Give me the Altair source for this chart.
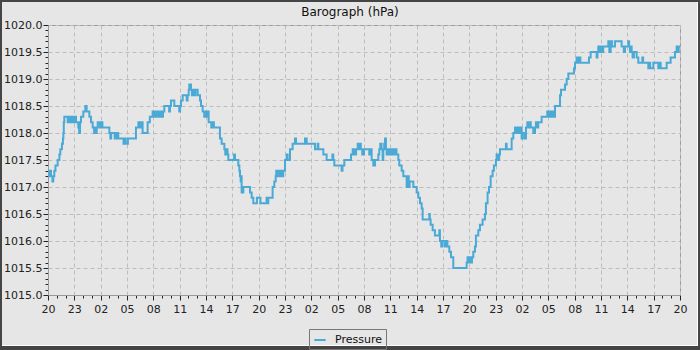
import altair as alt
import pandas as pd

# hours since 20:00 on day 1, pressure readings (hPa), step-wise
hours = [
    0.0, 0.15, 0.34, 0.5, 0.6, 0.72, 0.85, 1.1, 1.3, 1.4, 1.59, 1.7, 1.75, 1.8, 1.86,
    2.24, 2.35, 2.5, 2.6, 2.75, 2.85, 3.0, 3.1, 3.19, 3.45, 3.55, 3.65, 3.76, 4.02, 4.25,
    4.4, 4.71, 4.9, 5.09, 5.25, 5.35, 5.45, 5.55, 5.66, 5.9, 6.0, 6.2, 6.42, 6.99, 7.1,
    7.2, 7.6, 7.8, 8.0, 8.6, 8.75, 8.85, 9.1, 10.02, 10.3, 10.52, 10.6, 10.78, 11.35,
    11.6, 11.92, 12.1, 12.3, 12.5, 12.7, 12.9, 13.1, 13.25, 13.8, 13.9, 14.01, 14.39,
    14.95, 15.05, 15.15, 15.34, 15.8, 15.9, 16.03, 16.1, 16.29, 16.4, 16.5, 16.7, 16.8,
    17.05, 17.32, 17.43, 17.62, 17.8, 17.92, 18.05, 18.2, 18.3, 18.6, 18.8, 18.9, 19.59,
    19.78, 20.09, 20.2, 20.35, 20.45, 20.54, 21.2, 21.3, 21.68, 21.8, 21.87, 21.95, 22.0,
    22.06, 22.25, 23.01, 23.2, 23.39, 23.8, 24.2, 24.9, 25.0, 25.1, 25.59, 25.78, 25.94,
    26.0, 26.2, 26.4, 26.6, 26.8, 27.0, 27.19, 27.3, 27.57, 27.87, 28.14, 28.25, 29.28,
    29.47, 30.42, 30.72, 30.8, 31.37, 31.74, 32.4, 32.5, 32.62, 33.45, 33.55, 33.76,
    34.52, 34.71, 34.9, 35.1, 35.28, 35.38, 35.54, 35.64, 35.8, 36.0, 36.6, 36.75, 36.87,
    37.06, 37.25, 37.63, 37.74, 37.85, 38.0, 38.12, 38.2, 38.3, 38.39, 38.5, 38.58, 38.8,
    39.0, 39.1, 39.3, 39.5, 39.7, 39.91, 40.02, 40.29, 40.48, 40.86, 40.95, 41.1, 41.2,
    41.62, 42.0, 42.19, 42.38, 42.57, 42.68, 43.44, 43.5, 43.59, 43.82, 44.08, 44.58,
    44.65, 44.8, 44.9, 45.2, 45.3, 45.5, 45.72, 45.91, 46.17, 47.69, 47.8, 47.9, 48.07,
    48.2, 48.3, 48.45, 48.64, 48.75, 49.02, 49.21, 49.51, 49.78, 49.89, 50.08, 50.24,
    50.43, 50.65, 50.8, 51.03, 51.11, 51.3, 51.4, 51.49, 52.17, 52.25, 52.82, 53.01,
    53.2, 53.3, 53.5, 53.6, 53.8, 53.96, 54.1, 54.34, 54.45, 54.61, 54.7, 54.85, 55.0,
    55.29, 55.48, 55.59, 55.7, 55.85, 56.24, 56.88, 57.0, 57.15, 57.3, 57.45, 57.6,
    57.76, 58.33, 58.44, 58.9, 59.09, 59.28, 59.92, 60.04, 60.22, 60.35, 60.5, 60.65,
    61.63, 61.82, 62.5, 62.6, 62.69, 62.8, 62.95, 63.1, 63.25, 63.83, 63.95, 64.1, 64.25,
    64.59, 65.35, 65.6, 65.73, 66.11, 66.2, 66.3, 66.4, 66.49, 66.6, 66.75, 67.06, 67.25,
    67.71, 67.8, 68.39, 68.5, 68.6, 68.96, 69.53, 69.7, 69.8, 70.48, 70.93, 71.43, 71.62,
    71.75, 71.85, 72.0,
]
pressure = [
    1017.2, 1017.3, 1017.2, 1017.1, 1017.2, 1017.3, 1017.4, 1017.5, 1017.6, 1017.7, 1017.8, 1017.9, 1018.0, 1018.2, 1018.3,
    1018.2, 1018.3, 1018.2, 1018.3, 1018.2, 1018.3, 1018.2, 1018.3, 1018.2, 1018.1, 1018.0, 1018.2, 1018.3, 1018.4, 1018.5,
    1018.4, 1018.3, 1018.2, 1018.1, 1018.0, 1018.1, 1018.0, 1018.1, 1018.2, 1018.1, 1018.2, 1018.1, 1018.1, 1018.0, 1017.9,
    1018.0, 1017.9, 1018.0, 1017.9, 1017.8, 1017.9, 1017.8, 1017.9, 1018.1, 1018.2, 1018.1, 1018.2, 1018.0, 1018.2,
    1018.3, 1018.4, 1018.3, 1018.4, 1018.3, 1018.4, 1018.3, 1018.4, 1018.5, 1018.4, 1018.5, 1018.6, 1018.5,
    1018.4, 1018.5, 1018.6, 1018.7, 1018.6, 1018.7, 1018.8, 1018.9, 1018.8, 1018.7, 1018.8, 1018.7, 1018.8,
    1018.7, 1018.6, 1018.5, 1018.4, 1018.3, 1018.4, 1018.3, 1018.4, 1018.2, 1018.1, 1018.2, 1018.1, 1017.9,
    1017.8, 1017.7, 1017.6, 1017.7, 1017.6, 1017.5, 1017.6, 1017.5, 1017.4, 1017.3, 1017.2, 1017.1, 1017.2,
    1016.9, 1017.0, 1016.9, 1016.8, 1016.7, 1016.8, 1016.7, 1016.8, 1016.7, 1016.8, 1017.0, 1017.1, 1017.2,
    1017.3, 1017.2, 1017.3, 1017.2, 1017.3, 1017.5, 1017.6, 1017.5, 1017.7, 1017.8, 1017.9, 1017.8, 1017.9,
    1017.8, 1017.7, 1017.8, 1017.7, 1017.6, 1017.5, 1017.6, 1017.5, 1017.4, 1017.3, 1017.4, 1017.5,
    1017.6, 1017.7, 1017.6, 1017.7, 1017.8, 1017.7, 1017.8, 1017.7, 1017.6, 1017.7, 1017.6, 1017.7, 1017.5,
    1017.4, 1017.5, 1017.6, 1017.7, 1017.8, 1017.7, 1017.5, 1017.7, 1017.8, 1017.9, 1017.7, 1017.6, 1017.7,
    1017.6, 1017.7, 1017.6, 1017.7, 1017.6, 1017.5, 1017.4, 1017.3, 1017.2, 1017.0, 1017.2, 1017.0, 1017.1,
    1017.0, 1016.9, 1016.8, 1016.7, 1016.6, 1016.4, 1016.5, 1016.4, 1016.3, 1016.2, 1016.1, 1016.2,
    1016.0, 1015.9, 1016.0, 1015.9, 1016.0, 1015.9, 1015.8, 1015.7, 1015.5, 1015.6, 1015.7, 1015.6, 1015.7,
    1015.6, 1015.7, 1015.8, 1015.9, 1016.1, 1016.2, 1016.3, 1016.4, 1016.5, 1016.7, 1016.9, 1017.0,
    1017.2, 1017.3, 1017.4, 1017.5, 1017.6, 1017.5, 1017.6, 1017.7, 1017.8, 1017.7, 1017.9, 1018.0,
    1018.1, 1018.0, 1018.1, 1018.0, 1018.1, 1017.9, 1018.0, 1017.9, 1018.1, 1018.2, 1018.1, 1018.2, 1018.1,
    1018.0, 1018.1, 1018.2, 1018.1, 1018.2, 1018.3, 1018.4, 1018.3, 1018.4, 1018.3, 1018.4, 1018.3,
    1018.5, 1018.7, 1018.8, 1018.9, 1019.0, 1019.1, 1019.2, 1019.3, 1019.4, 1019.3, 1019.4, 1019.3,
    1019.4, 1019.5, 1019.4, 1019.5, 1019.6, 1019.5, 1019.6, 1019.5, 1019.6, 1019.7, 1019.5, 1019.7, 1019.6,
    1019.7, 1019.6, 1019.5, 1019.6, 1019.7, 1019.6, 1019.5, 1019.6, 1019.5, 1019.4, 1019.5, 1019.4, 1019.3,
    1019.4, 1019.3, 1019.2, 1019.3, 1019.2, 1019.3, 1019.2, 1019.3, 1019.2, 1019.3, 1019.4, 1019.5, 1019.6,
    1019.5, 1019.6, 1019.6,
]
series_name = ["Pressure"] * len(hours)

x_tick_values = list(range(0, 73))                       # every hour
y_tick_values = [round(1015 + 0.1 * i, 1) for i in range(51)]  # every 0.1 hPa

df = pd.DataFrame({"hour": hours, "pressure": pressure, "series": series_name})

LINE_COLOR = "#4ba9d6"
FONT = "DejaVu Sans"

x_major = "datum.value % 3 == 0"
y_major = "abs(datum.value * 2 - round(datum.value * 2)) < 0.001"

x_axis = alt.Axis(
    values=x_tick_values,
    labelExpr=f"{x_major} ? ((((datum.value + 20) % 24) < 10 ? '0' : '') + ((datum.value + 20) % 24)) : ''",
    tickSize={"condition": {"test": x_major, "value": 5}, "value": 3},
    gridOpacity={"condition": {"test": x_major, "value": 1}, "value": 0},
    grid=True, gridDash=[4, 3], gridColor="#bdbdbd", gridWidth=1,
    domainColor="#999999", tickColor="#222222",
    labelFont=FONT, labelFontSize=11, labelColor="#222222", labelPadding=3,
    labelOverlap=False, labelFlush=False, title=None,
)
y_axis = alt.Axis(
    values=y_tick_values,
    labelExpr=f"{y_major} ? format(datum.value, '.1f') : ''",
    tickSize={"condition": {"test": y_major, "value": 5}, "value": 3},
    gridOpacity={"condition": {"test": y_major, "value": 1}, "value": 0},
    grid=True, gridDash=[4, 3], gridColor="#bdbdbd", gridWidth=1,
    domainColor="#999999", tickColor="#222222",
    labelFont=FONT, labelFontSize=11, labelColor="#222222", labelPadding=1,
    labelOverlap=False, labelFlush=False, title=None,
)

line = alt.Chart(df).mark_line(interpolate="step-after", strokeWidth=2).encode(
    x=alt.X("hour:Q", scale=alt.Scale(domain=[0, 72], nice=False, zero=False), axis=x_axis),
    y=alt.Y("pressure:Q", scale=alt.Scale(domain=[1015, 1020], nice=False, zero=False), axis=y_axis),
    color=alt.Color(
        "series:N",
        scale=alt.Scale(domain=["Pressure"], range=[LINE_COLOR]),
        legend=alt.Legend(
            title=None, orient="none", legendX=261, legendY=304,
            symbolType="stroke", symbolStrokeWidth=2, symbolSize=130,
            labelFont=FONT, labelFontSize=11, labelColor="#111111",
            labelExpr="datum.label + '\u00a0\u00a0'",
            strokeColor="#777777", padding=4, labelOffset=8,
        ),
    ),
)

title_df = pd.DataFrame({"t": ["Barograph (hPa)"]})
title = alt.Chart(title_df).mark_text(font=FONT, fontSize=12, color="#111111", baseline="middle").encode(
    text="t:N", x=alt.value(302), y=alt.value(-13)
)

one = pd.DataFrame({"a": [0]})
frame = alt.Chart(one).mark_rect(filled=False, stroke="#454545", strokeWidth=2).encode(
    x=alt.value(-47), x2=alt.value(651), y=alt.value(-24), y2=alt.value(324)
)
bottom_dark = alt.Chart(one).mark_rule(color="#454545", strokeWidth=2).encode(
    x=alt.value(-48), x2=alt.value(652), y=alt.value(322)
)
white_bottom = alt.Chart(one).mark_rule(color="#ffffff", strokeWidth=1).encode(
    x=alt.value(-46), x2=alt.value(650), y=alt.value(320.5)
)
white_right = alt.Chart(one).mark_rule(color="#ffffff", strokeWidth=1).encode(
    x=alt.value(649.5), y=alt.value(-23), y2=alt.value(321)
)

chart = alt.layer(line, title, white_bottom, white_right, frame, bottom_dark).properties(
    width=632, height=270,
    padding={"left": 48, "top": 25, "right": 20, "bottom": 55},
    autosize=alt.AutoSizeParams(type="none"),
).configure(background="#e6e6e6", font=FONT).configure_view(stroke="#999999", strokeWidth=1)

chart.save("out.html", embed_options={"renderer": "svg", "actions": False})
